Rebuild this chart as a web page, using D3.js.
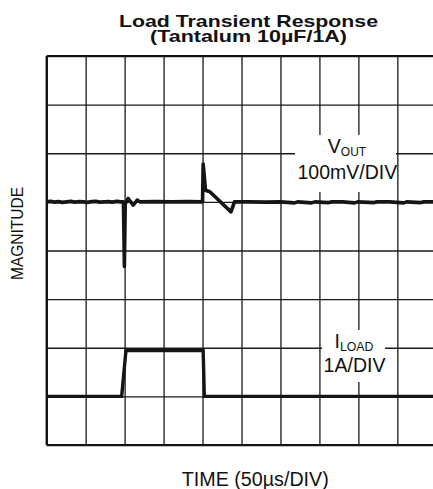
<!DOCTYPE html>
<html>
<head>
<meta charset="utf-8">
<script src="https://cdn.jsdelivr.net/npm/d3@7"></script>
<style>
  body { margin: 0; background: #fff; }
  svg { display: block; }
  text { font-family: "Liberation Sans", Arial, Helvetica, sans-serif; fill: #111; }
</style>
</head>
<body>
<svg id="chart" width="433" height="489"></svg>
<script>
// Scope time base: 50 µs per division, 10 divisions
const timeTicks = [0, 50, 100, 150, 200, 250, 300, 350, 400, 450, 500];
// Vertical divisions (8 across the screen)
const divTicks = [0, 1, 2, 3, 4, 5, 6, 7, 8];

// Output voltage deviation (mV) against time (µs), 100 mV/div, centred on division 5
const voutTime = [0, 5, 10, 15, 20, 26, 31, 36, 42, 47, 52, 58, 63, 68, 74, 79, 84, 90, 95, 98.5,
  99.7, 100.8, 104.6, 111, 116.2, 119.6, 140, 160, 180, 200,
  200.8, 203.8, 209.4, 236.5, 241, 260, 280, 300, 318, 322, 340, 344, 362, 366, 380, 395, 399,
  420, 424, 440, 458, 462, 480, 484, 500];
const voutMv = [0, 1, -0.5, 0.5, -1, 0, 1, -0.5, 0.5, 0, -1, 0.5, 1, -0.5, 0, 0.5, -0.5, 1, 0, 0,
  -133, -4, 7, -6.6, 3.7, 0, 0.5, 0, 0.5, 0,
  78, 24, 20.8, -20.5, 0, 0, -0.5, 0, -2, 0, -2, 0, -1.5, 0, 0, -2, 0,
  -1.5, 0, 0, -2, 0, -1.5, 0, 0];

// Load current (A) against time (µs), 1 A/div, zero on division 1
const iloadTime = [0, 96.2, 101.7, 200.8, 202.3, 500];
const iloadAmp = [0, 0, 0.94, 0.94, 0, 0];

const titleLines = ["Load Transient Response", "(Tantalum 10µF/1A)"];
const xTitle = "TIME (50\u00B5s/DIV)";
const yTitle = "MAGNITUDE";

const svg = d3.select("#chart");
const plotLeft = 46.7, plotRight = 436.3, plotTop = 56, plotBottom = 445;

const x = d3.scaleLinear().domain([0, 500]).range([plotLeft, plotRight]);
const y = d3.scaleLinear().domain([0, 8]).range([plotBottom, plotTop]);

// Graticule
svg.append("g")
  .attr("transform", `translate(0,${plotBottom})`)
  .call(d3.axisBottom(x).tickValues(timeTicks).tickSize(-(plotBottom - plotTop)).tickFormat(""))
  .call(g => g.select(".domain").remove())
  .call(g => g.selectAll("line").attr("stroke", "#1a1a1a").attr("stroke-width", 1.3));

svg.append("g")
  .attr("transform", `translate(${plotLeft},0)`)
  .call(d3.axisLeft(y).tickValues(divTicks).tickSize(-(plotRight - plotLeft)).tickFormat(""))
  .call(g => g.select(".domain").remove())
  .call(g => g.selectAll("line").attr("stroke", "#1a1a1a").attr("stroke-width", 1.3));

// Frame edges drawn heavier
const frame = svg.append("g").attr("stroke", "#111").attr("stroke-width", 2.2);
frame.append("line").attr("x1", x(0)).attr("x2", x(500)).attr("y1", y(8)).attr("y2", y(8));
frame.append("line").attr("x1", x(0)).attr("x2", x(500)).attr("y1", y(0)).attr("y2", y(0));
frame.append("line").attr("x1", x(0)).attr("x2", x(0)).attr("y1", y(0)).attr("y2", y(8));

// Label backgrounds that blank out the graticule
svg.append("rect").attr("x", 295).attr("y", 135).attr("width", 101).attr("height", 57).attr("fill", "#fff");
svg.append("rect").attr("x", 322).attr("y", 330).attr("width", 63).attr("height", 52).attr("fill", "#fff");

// Traces
const voutLine = d3.line()
  .x((d, i) => x(voutTime[i]))
  .y(d => y(5 + d / 100));
svg.append("path")
  .attr("d", voutLine(voutMv))
  .attr("fill", "none").attr("stroke", "#151515").attr("stroke-width", 3.6)
  .attr("stroke-linejoin", "round");

const iloadLine = d3.line()
  .x((d, i) => x(iloadTime[i]))
  .y(d => y(1 + d));
svg.append("path")
  .attr("d", iloadLine(iloadAmp))
  .attr("fill", "none").attr("stroke", "#151515").attr("stroke-width", 3.4)
  .attr("stroke-linejoin", "miter");

// Title
svg.append("text").attr("x", 248.5).attr("y", 27).attr("text-anchor", "middle")
  .attr("font-size", 17).attr("font-weight", "bold")
  .attr("textLength", 259).attr("lengthAdjust", "spacingAndGlyphs")
  .text(titleLines[0]);
svg.append("text").attr("x", 248.5).attr("y", 41.5).attr("text-anchor", "middle")
  .attr("font-size", 17).attr("font-weight", "bold")
  .attr("textLength", 197).attr("lengthAdjust", "spacingAndGlyphs")
  .text(titleLines[1]);

// Axis titles
svg.append("text").attr("transform", "translate(23,233.5) rotate(-90)")
  .attr("text-anchor", "middle").attr("font-size", 17)
  .attr("textLength", 93).attr("lengthAdjust", "spacingAndGlyphs")
  .text(yTitle);
svg.append("text").attr("x", 255.3).attr("y", 486).attr("text-anchor", "middle")
  .attr("font-size", 19.7)
  .text(xTitle);

// Trace annotations
const vLab = svg.append("text").attr("x", 347).attr("y", 153.3).attr("text-anchor", "middle").attr("font-size", 19.5);
vLab.append("tspan").text("V");
vLab.append("tspan").attr("font-size", 12).attr("dy", 2.2).text("OUT");
svg.append("text").attr("x", 347.3).attr("y", 179).attr("text-anchor", "middle").attr("font-size", 19.5).text("100mV/DIV");

const iLab = svg.append("text").attr("x", 354).attr("y", 348.3).attr("text-anchor", "middle").attr("font-size", 19.5);
iLab.append("tspan").text("I");
iLab.append("tspan").attr("font-size", 12.3).attr("dy", 2.2).text("LOAD");
svg.append("text").attr("x", 354.5).attr("y", 371.7).attr("text-anchor", "middle").attr("font-size", 19.5).text("1A/DIV");
</script>
</body>
</html>
